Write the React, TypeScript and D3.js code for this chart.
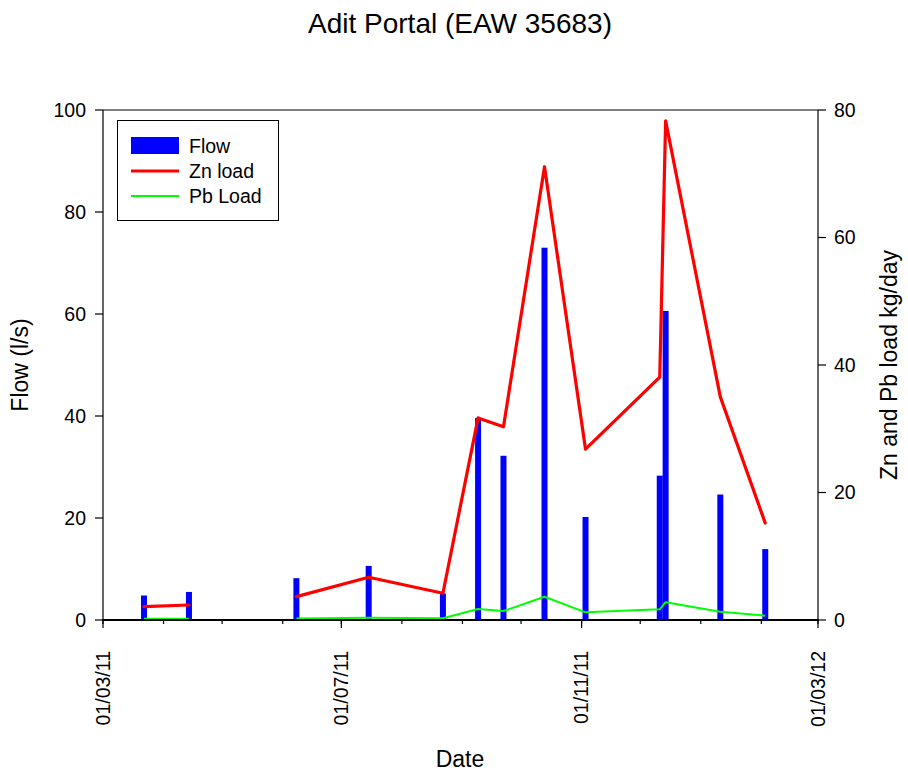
import React from "react";
import * as d3 from "d3";

// Sampling dates (day/month/year) and measured values
const sampleDates = [
  "2011-03-22", "2011-04-14", "2011-06-08", "2011-07-15", "2011-08-22",
  "2011-09-09", "2011-09-22", "2011-10-13", "2011-11-03", "2011-12-11",
  "2011-12-14", "2012-01-11", "2012-02-03",
];
const flow = [4.8, 5.5, 8.2, 10.6, 5.2, 39.6, 32.2, 73.0, 20.2, 28.3, 60.6, 24.6, 13.9];
const znLoad = [2.1, 2.35, 3.66, 6.7, 4.2, 31.7, 30.3, 71.1, 26.8, 38.1, 78.3, 35.0, 15.2];
const pbLoad = [0.2, 0.2, 0.25, 0.36, 0.27, 1.73, 1.41, 3.65, 1.2, 1.68, 2.8, 1.3, 0.67];
// Load series are drawn as separate runs of consecutive samples
const loadRuns = [[0, 1], [2, 12]];

const flowTicks = [0, 20, 40, 60, 80, 100];
const loadTicks = [0, 20, 40, 60, 80];
const dateTickLabels = ["01/03/11", "01/07/11", "01/11/11", "01/03/12"];

const W = 908;
const H = 771;
const left = 103;
const right = 818;
const top = 110;
const bottom = 620;
const FONT = "'Liberation Sans', Arial, sans-serif";

const parse = (s: string) => new Date(s + "T00:00:00Z");
const dates = sampleDates.map(parse);

export default function App() {
  const x = d3
    .scaleUtc()
    .domain([parse("2011-03-01"), parse("2012-03-01")])
    .range([left, right]);
  const yFlow = d3.scaleLinear().domain([0, 100]).range([bottom, top]);
  const yLoad = d3.scaleLinear().domain([0, 80]).range([bottom, top]);

  const minorTicks = d3.utcMonth.range(parse("2011-03-01"), parse("2012-03-02"));
  const majorTicks = minorTicks.filter((_, i) => i % 4 === 0);

  const runPath = (vals: number[]) =>
    loadRuns
      .map(([a, b]) =>
        d3
          .line<number>()
          .x((i) => x(dates[i]))
          .y((i) => yLoad(vals[i]))(d3.range(a, b + 1))
      )
      .join("");

  const barW = 6;

  return (
    <svg width={W} height={H} style={{ display: "block", position: "absolute", left: 0, top: 0 }} fontFamily={FONT}>
      <rect width={W} height={H} fill="#fff" />
      <text x={460} y={33} textAnchor="middle" fontSize={28}>
        Adit Portal (EAW 35683)
      </text>

      {/* flow bars */}
      {flow.map((v, i) => (
        <rect
          key={i}
          x={x(dates[i]) - barW / 2}
          y={yFlow(v)}
          width={barW}
          height={bottom - yFlow(v)}
          fill="#0000ff"
        />
      ))}

      {/* load lines */}
      <path d={runPath(pbLoad)} fill="none" stroke="#00ff00" strokeWidth={2} strokeLinejoin="round" />
      <path d={runPath(znLoad)} fill="none" stroke="#ff0000" strokeWidth={3.2} strokeLinejoin="round" strokeLinecap="round" />

      {/* frame */}
      <line x1={left} x2={right} y1={top} y2={top} stroke="#000" strokeWidth={1} />
      <line x1={left} x2={left} y1={top} y2={bottom} stroke="#000" strokeWidth={1.2} />
      <line x1={right} x2={right} y1={top} y2={bottom} stroke="#000" strokeWidth={1.2} />
      <line x1={left - 1} x2={right + 1} y1={bottom} y2={bottom} stroke="#000" strokeWidth={2.2} />

      {/* left axis */}
      {flowTicks.map((t) => (
        <g key={t}>
          <line x1={left - 8} x2={left} y1={yFlow(t)} y2={yFlow(t)} stroke="#000" strokeWidth={1.2} />
          <text x={left - 17} y={yFlow(t)} dy="0.35em" textAnchor="end" fontSize={19.5}>
            {t}
          </text>
        </g>
      ))}
      <text transform={`translate(28,${(top + bottom) / 2}) rotate(-90)`} textAnchor="middle" fontSize={23}>
        Flow (l/s)
      </text>

      {/* right axis */}
      {loadTicks.map((t) => (
        <g key={t}>
          <line x1={right} x2={right + 8} y1={yLoad(t)} y2={yLoad(t)} stroke="#000" strokeWidth={1.2} />
          <text x={right + 16} y={yLoad(t)} dy="0.35em" textAnchor="start" fontSize={19.5}>
            {t}
          </text>
        </g>
      ))}
      <text transform={`translate(897,${(top + bottom) / 2}) rotate(-90)`} textAnchor="middle" fontSize={23}>
        Zn and Pb load kg/day
      </text>

      {/* date axis */}
      {minorTicks.map((d, i) => (
        <line key={"m" + i} x1={x(d)} x2={x(d)} y1={bottom} y2={bottom + 4} stroke="#000" strokeWidth={1.2} />
      ))}
      {majorTicks.map((d, i) => (
        <g key={"M" + i}>
          <line x1={x(d)} x2={x(d)} y1={bottom} y2={bottom + 8} stroke="#000" strokeWidth={1.2} />
          <text
            transform={`translate(${x(d)},${bottom + 31}) rotate(-90)`}
            dy="0.35em"
            textAnchor="end"
            fontSize={19.5}
          >
            {dateTickLabels[i]}
          </text>
        </g>
      ))}
      <text x={460} y={767} textAnchor="middle" fontSize={23}>
        Date
      </text>

      {/* legend */}
      <g>
        <rect x={117.5} y={120.5} width={161} height={100} fill="#fff" stroke="#000" strokeWidth={1} />
        <rect x={131} y={137} width={48} height={17} fill="#0000ff" />
        <text x={189} y={146} dy="0.35em" fontSize={19.5}>Flow</text>
        <line x1={131} x2={179} y1={171} y2={171} stroke="#ff0000" strokeWidth={3} />
        <text x={189} y={171} dy="0.35em" fontSize={19.5}>Zn load</text>
        <line x1={131} x2={179} y1={196} y2={196} stroke="#00ff00" strokeWidth={2} />
        <text x={189} y={196} dy="0.35em" fontSize={19.5}>Pb Load</text>
      </g>
    </svg>
  );
}
